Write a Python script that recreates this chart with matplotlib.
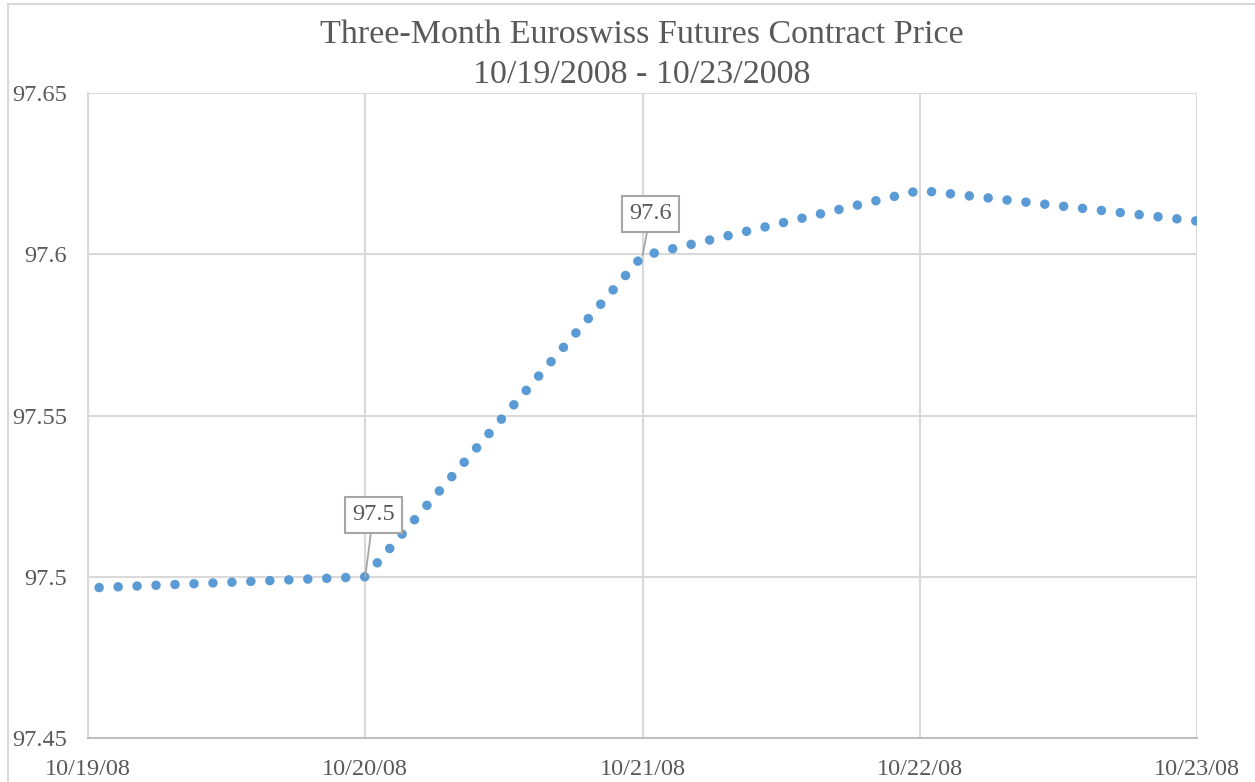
import matplotlib
matplotlib.use('Agg')
import matplotlib.pyplot as plt
import matplotlib.dates as mdates
import matplotlib.lines as mlines
import pandas as pd

# dados
dates = ['2008-10-19', '2008-10-20', '2008-10-21', '2008-10-22', '2008-10-23']
price = [97.4965, 97.50, 97.5995, 97.6198, 97.6103]
tick_labels = ['10/19/08', '10/20/08', '10/21/08', '10/22/08', '10/23/08']
y_ticks = [97.45, 97.5, 97.55, 97.6, 97.65]
y_tick_labels = ['97.45', '97.5', '97.55', '97.6', '97.65']
# rótulos de dados: (índice, texto, deslocamento em pixels)
data_labels = [(1, '97.5', (8, 62)), (2, '97.6', (8, 42))]

x = mdates.date2num(pd.to_datetime(dates))

plt.rcParams['font.family'] = ['Liberation Serif', 'DejaVu Serif']
cinza = '#595959'
azul = '#5b9bd5'
grade = '#d9d9d9'

fig = plt.figure(figsize=(12.55, 7.82), dpi=100)
ax = fig.add_axes([88/1255, 1-738/782, (1197-88)/1255, (738-93)/782])

ax.plot(x, price, color=azul, lw=6.9, linestyle=(0.82, (0.001, 1.98)),
        dash_capstyle='round', zorder=3)

for i, txt, (dx, dy) in data_labels:
    ax.annotate(txt, xy=(x[i], price[i]), xytext=(dx, dy), textcoords='offset pixels',
                ha='center', va='center', fontsize=17.5, color=cinza,
                bbox=dict(boxstyle='square,pad=0.3', fc='white', ec='#a6a6a6', lw=1.5),
                arrowprops=dict(arrowstyle='-', color='#a6a6a6', lw=1.3,
                                shrinkA=0, shrinkB=0), zorder=4)

ax.set_xlim(x[0], x[-1])
ax.set_ylim(97.45, 97.65)
ax.set_xticks(x)
ax.set_xticklabels(tick_labels)
ax.set_yticks(y_ticks)
ax.set_yticklabels(y_tick_labels)
ax.tick_params(axis='both', length=0, labelsize=17.5, labelcolor=cinza)
ax.tick_params(axis='x', pad=15)
ax.tick_params(axis='y', pad=15)
ax.grid(True, color=grade, lw=1.5)
ax.set_axisbelow(True)
for s in ['top', 'right']:
    ax.spines[s].set_visible(False)
ax.spines['left'].set_color(grade)
ax.spines['left'].set_linewidth(1.5)
ax.spines['bottom'].set_color('#bfbfbf')
ax.spines['bottom'].set_linewidth(1.5)

fig.text(642/1255, 1-35/782, 'Three-Month Euroswiss Futures Contract Price',
         ha='center', va='center', fontsize=24.5, color=cinza)
fig.text(642/1255, 1-75/782, '10/19/2008 - 10/23/2008',
         ha='center', va='center', fontsize=24.5, color=cinza)

# borda da área do gráfico (só esquerda e topo aparecem)
fig.add_artist(mlines.Line2D([8/1255, 8/1255], [0, 1-4/782], transform=fig.transFigure,
                             color=grade, lw=1.5))
fig.add_artist(mlines.Line2D([8/1255, 1], [1-4/782, 1-4/782], transform=fig.transFigure,
                             color=grade, lw=1.5))

plt.savefig('out.png', dpi=100)
